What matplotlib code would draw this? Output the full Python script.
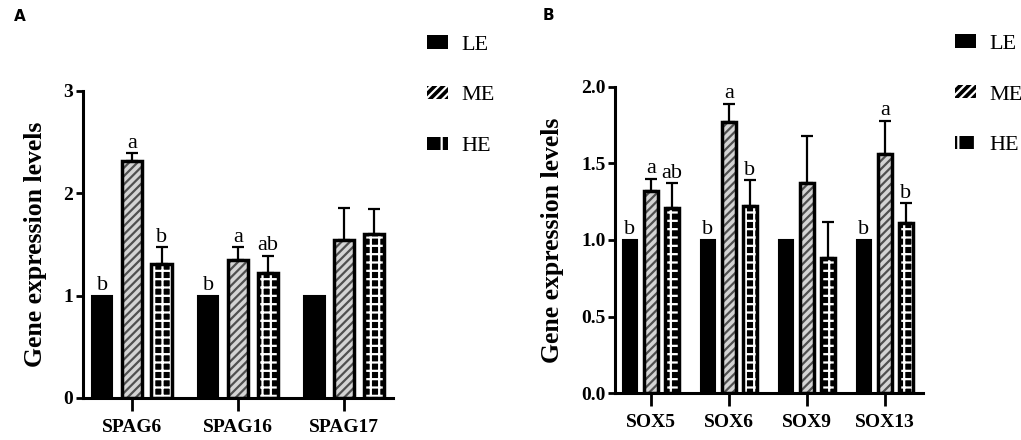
import numpy as np
import matplotlib
matplotlib.use("Agg")
import matplotlib.pyplot as plt
from matplotlib.patches import Patch

# ---- data ----
groups = ["LE", "ME", "HE"]

genes_a = ["SPAG6", "SPAG16", "SPAG17"]
mean_a = {"LE": [1.0, 1.0, 1.0], "ME": [2.31, 1.35, 1.54], "HE": [1.31, 1.22, 1.60]}
err_a = {"LE": [0.0, 0.0, 0.0], "ME": [0.08, 0.12, 0.32], "HE": [0.16, 0.17, 0.25]}
letters_a = {"LE": ["b", "b", ""], "ME": ["a", "a", ""], "HE": ["b", "ab", ""]}
yticks_a = [0, 1, 2, 3]
yticklabels_a = ["0", "1", "2", "3"]

genes_b = ["SOX5", "SOX6", "SOX9", "SOX13"]
mean_b = {"LE": [1.0, 1.0, 1.0, 1.0], "ME": [1.32, 1.77, 1.37, 1.56], "HE": [1.21, 1.22, 0.88, 1.11]}
err_b = {"LE": [0.0, 0.0, 0.0, 0.0], "ME": [0.08, 0.12, 0.31, 0.22], "HE": [0.16, 0.17, 0.24, 0.13]}
letters_b = {"LE": ["b", "b", "", "b"], "ME": ["a", "a", "", "a"], "HE": ["ab", "b", "", "b"]}
yticks_b = [0.0, 0.5, 1.0, 1.5, 2.0]
yticklabels_b = ["0.0", "0.5", "1.0", "1.5", "2.0"]

SERIF = ["Liberation Serif", "DejaVu Serif"]
plt.rcParams["hatch.linewidth"] = 1.6

fig = plt.figure(figsize=(10.21, 4.40), dpi=100)


def draw_panel(ax, genes, mean, err, letters, yticks, yticklabels, ymax, width, offset, xlim):
    x = np.arange(len(genes))
    for i, g in enumerate(groups):
        xs = x + (i - 1) * offset
        vals = np.array(mean[g])
        e = np.array(err[g])
        if g == "LE":
            ax.bar(xs, vals, width, color="black", edgecolor="black", linewidth=1.5, zorder=2)
        elif g == "ME":
            ax.bar(xs, vals, width, color="#d4d4d4", edgecolor="#505050", hatch="////", linewidth=0, zorder=2)
            ax.bar(xs, vals, width, facecolor="none", edgecolor="black", linewidth=2.5, zorder=3)
        else:
            ax.bar(xs, vals, width, color="black", edgecolor="white", hatch="++", linewidth=0, zorder=2)
            ax.bar(xs, vals, width, facecolor="none", edgecolor="black", linewidth=2.5, zorder=3)
        if e.any():
            m = e > 0
            ax.errorbar(xs[m], vals[m], yerr=[np.zeros(m.sum()), e[m]], fmt="none",
                        ecolor="black", elinewidth=1.6, capsize=4, capthick=1.6, zorder=4)
        for xx, v, ee, lab in zip(xs, vals, e, letters[g]):
            if lab:
                ax.text(xx, v + ee + ymax * 0.002, lab, ha="center", va="bottom",
                        family=SERIF, fontsize=16, zorder=5)
    ax.set_xlim(*xlim)
    ax.set_ylim(0, ymax)
    ax.set_xticks(x)
    ax.set_xticklabels(genes, family=SERIF, fontsize=14, fontweight="bold")
    ax.set_yticks(yticks)
    ax.set_yticklabels(yticklabels, family=SERIF, fontsize=14, fontweight="bold")
    for s in ["top", "right"]:
        ax.spines[s].set_visible(False)
    for s in ["left", "bottom"]:
        ax.spines[s].set_linewidth(2.2)
    ax.tick_params(axis="y", length=5, width=2, pad=2)
    ax.tick_params(axis="x", length=9, width=2, pad=6)
    ax.set_ylabel("Gene expression levels", family=SERIF, fontsize=18.5, fontweight="bold", labelpad=12)


ax_a = fig.add_axes([0.0813, 0.0955, 0.3036, 0.698])
draw_panel(ax_a, genes_a, mean_a, err_a, letters_a, yticks_a, yticklabels_a, 3.0,
           0.19, 0.28, (-0.46, 2.46))

ax_b = fig.add_axes([0.6024, 0.1068, 0.3017, 0.6955])
draw_panel(ax_b, genes_b, mean_b, err_b, letters_b, yticks_b, yticklabels_b, 2.0,
           0.175, 0.27, (-0.46, 3.49))

handles = [
    Patch(facecolor="black", edgecolor="black", linewidth=0),
    Patch(facecolor="black", edgecolor="white", hatch="////", linewidth=0),
    Patch(facecolor="black", edgecolor="white", hatch="|", linewidth=0),
]
for anchor in [(0.418, 0.92), (0.935, 0.922)]:
    fig.legend(handles, groups, loc="upper left", bbox_to_anchor=anchor, frameon=False,
               prop={"family": SERIF, "size": 16}, handlelength=0.95, handleheight=0.55,
               handletextpad=0.6, labelspacing=1.4, borderpad=0, borderaxespad=0)

fig.text(0.0137, 0.963, "A", fontsize=11, fontweight="bold", family="DejaVu Sans", va="center")
fig.text(0.531, 0.965, "B", fontsize=11, fontweight="bold", family="DejaVu Sans", va="center")

fig.savefig("out.png", dpi=100)
